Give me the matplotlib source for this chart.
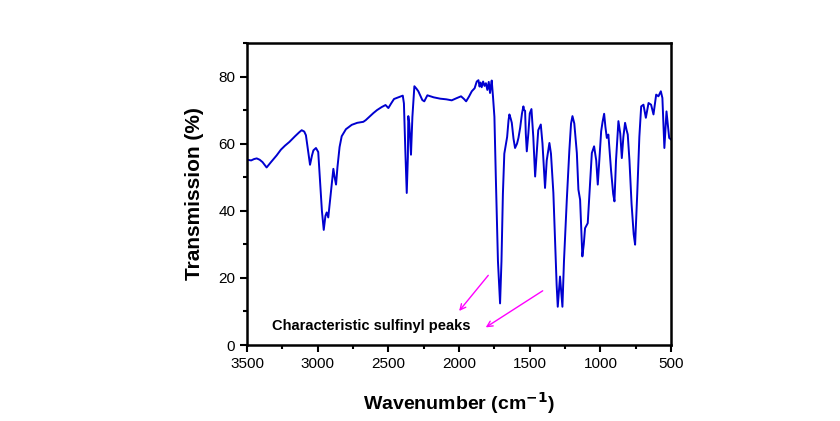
import matplotlib.pyplot as plt
from matplotlib.ticker import MultipleLocator

plt.rcParams['font.family'] = ['Liberation Sans', 'DejaVu Sans']

# FTIR spectrum
wavenumber = [3500, 3470, 3450, 3431, 3410, 3390, 3361, 3330, 3290, 3260, 3231, 3200,
              3160, 3130, 3113, 3095, 3083, 3070, 3054, 3040, 3030, 3012, 2996, 2985,
              2970, 2957, 2945, 2936, 2925, 2910, 2889, 2880, 2870, 2860, 2845, 2830,
              2800, 2759, 2720, 2677, 2660, 2642, 2606, 2580, 2547, 2520, 2500, 2480,
              2460, 2430, 2398, 2390, 2380, 2370, 2362, 2359, 2352, 2340, 2330, 2316,
              2300, 2288, 2260, 2246, 2224, 2180, 2134, 2090, 2052, 2020, 1986, 1965,
              1950, 1930, 1910, 1890, 1875, 1863, 1855, 1848, 1840, 1830, 1820, 1810,
              1800, 1790, 1781, 1775, 1769, 1760, 1750, 1740, 1725, 1710, 1700, 1690,
              1680, 1670, 1660, 1650, 1644, 1635, 1627, 1615, 1604, 1590, 1580, 1568,
              1555, 1545, 1540, 1533, 1528, 1521, 1510, 1500, 1488, 1475, 1462, 1450,
              1440, 1422, 1410, 1392, 1380, 1361, 1350, 1340, 1333, 1320, 1310, 1302,
              1294, 1286, 1278, 1269, 1258, 1238, 1220, 1208, 1198, 1185, 1167, 1156,
              1144, 1128, 1118, 1109, 1090, 1075, 1061, 1045, 1030, 1019, 1005, 995,
              985, 974, 965, 955, 944, 925, 910, 901, 890, 873, 860, 849,
              838, 826, 815, 807, 795, 780, 765, 755, 740, 725, 712, 696,
              679, 660, 642, 625, 606, 590, 573, 562, 548, 533, 514, 500]
transmission = [55.2, 55.0, 55.4, 55.6, 55.2, 54.5, 52.9, 54.5, 56.5, 58.2, 59.4, 60.5,
                62.2, 63.4, 64.0, 63.6, 62.5, 58.5, 53.7, 56.5, 58.0, 58.7, 57.5, 50.0,
                40.0, 34.3, 38.5, 39.5, 38.0, 44.0, 52.5, 50.0, 47.8, 53.0, 59.0, 62.2,
                64.3, 65.6, 66.2, 66.5, 67.0, 67.7, 69.1, 70.0, 70.9, 71.5, 70.6, 72.0,
                73.3, 73.8, 74.3, 72.0, 58.0, 45.3, 56.0, 68.2, 66.0, 56.7, 68.0, 77.1,
                76.3, 75.6, 73.0, 72.6, 74.4, 73.8, 73.4, 73.2, 72.9, 73.5, 74.1, 73.3,
                72.6, 74.0, 75.6, 76.5, 78.5, 78.9, 77.0, 78.2, 76.8, 78.5, 77.2, 78.0,
                76.0, 78.4, 75.1, 77.2, 78.8, 74.0, 68.0, 50.0, 25.0, 12.4, 25.0, 45.0,
                57.0, 59.5, 62.0, 67.0, 68.7, 67.5, 66.2, 61.5, 58.7, 60.0, 61.7, 64.7,
                69.0, 71.1, 70.0, 69.8, 63.0, 57.7, 63.0, 69.0, 70.3, 62.0, 50.2, 58.0,
                64.0, 65.7, 60.0, 46.8, 55.0, 60.2, 57.0, 50.0, 45.3, 30.0, 18.0, 11.4,
                16.0, 20.4, 16.0, 11.4, 25.0, 43.3, 58.0, 66.0, 68.2, 66.0, 57.2, 46.3,
                43.3, 26.4, 30.0, 34.8, 36.3, 47.0, 57.2, 59.2, 55.0, 47.8, 57.0, 63.7,
                66.5, 68.9, 65.0, 61.7, 62.7, 52.0, 45.0, 42.8, 55.0, 66.7, 63.0, 55.7,
                62.0, 66.2, 64.0, 62.7, 55.0, 42.0, 33.0, 29.9, 45.0, 62.0, 71.1, 71.6,
                67.7, 72.1, 71.6, 68.7, 74.6, 74.1, 75.6, 73.6, 58.7, 69.6, 61.7, 61.2]

label_text = 'Characteristic sulfinyl peaks'
arrow_starts = [(1781, 21.4), (1392, 16.6)]
arrow_ends = [(2012, 9.5), (1828, 4.8)]

fig = plt.figure(figsize=(8.4, 4.21), dpi=100)
ax = fig.add_axes([0.294, 0.1805, 0.505, 0.7175])

ax.plot(wavenumber, transmission, color='#0000d0', linewidth=1.4)

ax.set_xlim(3500, 500)
ax.set_ylim(0, 90)
ax.xaxis.set_major_locator(MultipleLocator(500))
ax.xaxis.set_minor_locator(MultipleLocator(250))
ax.yaxis.set_major_locator(MultipleLocator(20))
ax.yaxis.set_minor_locator(MultipleLocator(10))
ax.tick_params(which='major', direction='out', length=5, width=1.5, labelsize=11)
ax.tick_params(which='minor', direction='out', length=3, width=1.5)
for s in ax.spines.values():
    s.set_linewidth(1.8)

ax.set_xlabel('Wavenumber (cm$^{\\mathbf{-1}}$)', fontsize=14, fontweight='bold', labelpad=14)
ax.set_ylabel('Transmission (%)', fontsize=15, fontweight='bold', labelpad=10)

ax.text(3323, 5.7, label_text, fontsize=10.5, fontweight='bold', ha='left', va='center')
for st, en in zip(arrow_starts, arrow_ends):
    ax.annotate('', xy=en, xytext=st,
                arrowprops=dict(arrowstyle='->', color='#ff00ff', lw=1.0))

fig.savefig('out.png', dpi=100)
